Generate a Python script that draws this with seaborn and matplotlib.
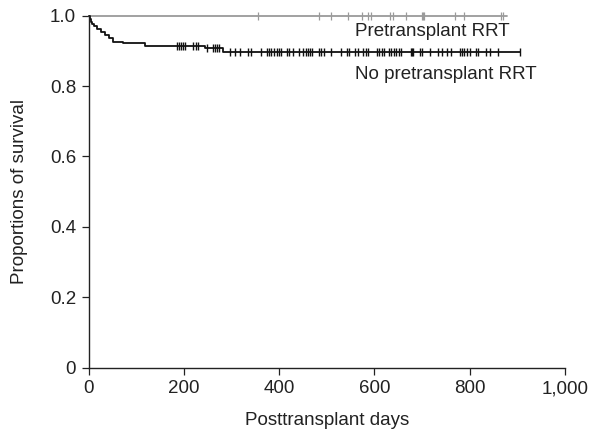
import numpy as np
import pandas as pd
import matplotlib
matplotlib.use("Agg")
import matplotlib.pyplot as plt
import seaborn as sns

# Kaplan-Meier steps, no pretransplant RRT
no_rrt_times = [0, 3, 5, 8, 11, 18, 26, 35, 44, 52, 73, 119, 245, 283, 905]
no_rrt_surv = [1.0, 0.99, 0.982, 0.976, 0.970, 0.962, 0.953, 0.945, 0.936, 0.926,
               0.921, 0.914, 0.907, 0.896, 0.896]
no_rrt_censored = [185, 190, 194, 199, 203, 220, 225, 229, 248, 262, 266, 269, 273,
                   297, 307, 318, 335, 341, 362, 374, 379, 384, 390, 395, 400, 405,
                   416, 421, 430, 442, 451, 456, 460, 465, 470, 484, 489, 495, 509,
                   531, 542, 547, 559, 565, 577, 582, 587, 605, 610, 616, 621, 630,
                   636, 641, 646, 651, 657, 677, 679, 682, 695, 700, 716, 734, 741,
                   753, 760, 779, 784, 789, 795, 800, 814, 818, 835, 842, 860, 905]

# pretransplant RRT: no events
rrt_times = [0, 878]
rrt_surv = [1.0, 1.0]
rrt_censored = [355, 484, 510, 545, 575, 586, 593, 632, 640, 667, 699, 702, 705,
                769, 788, 865, 870]

x_ticks = [0, 200, 400, 600, 800, 1000]
x_labels = ["0", "200", "400", "600", "800", "1,000"]
y_ticks = [0, 0.2, 0.4, 0.6, 0.8, 1.0]
y_labels = ["0", "0.2", "0.4", "0.6", "0.8", "1.0"]

sns.set_style("ticks")
plt.rcParams['font.family'] = ['Liberation Sans', 'DejaVu Sans']

fig = plt.figure(figsize=(5.94, 4.36), dpi=100)
ax = fig.add_axes([0.149, 0.157, 0.802, 0.807])

def surv_at(times, surv, t):
    idx = np.searchsorted(times, t, side='right') - 1
    return np.asarray(surv)[idx]

# curves
sns.lineplot(x=rrt_times, y=rrt_surv, drawstyle='steps-post', color='#9a9a9a',
             lw=1.3, ax=ax, estimator=None, clip_on=False)
sns.lineplot(x=no_rrt_times, y=no_rrt_surv, drawstyle='steps-post', color='#111111',
             lw=1.3, ax=ax, estimator=None, clip_on=False)

# censor marks
cens_rrt = pd.DataFrame({'t': rrt_censored,
                         's': surv_at(rrt_times, rrt_surv, rrt_censored)})
cens_no = pd.DataFrame({'t': no_rrt_censored,
                        's': surv_at(no_rrt_times, no_rrt_surv, no_rrt_censored)})
sns.scatterplot(data=cens_rrt, x='t', y='s', marker='|', s=30, color='#9a9a9a',
                linewidth=0.9, ax=ax, clip_on=False)
sns.scatterplot(data=cens_no, x='t', y='s', marker='|', s=40, color='#111111',
                linewidth=1.0, ax=ax, clip_on=False)

ax.text(559, 0.955, "Pretransplant RRT", fontsize=13.5, va='center', ha='left', color='#222222')
ax.text(559, 0.834, "No pretransplant RRT", fontsize=13.5, va='center', ha='left', color='#222222')

ax.set_xlim(0, 1000)
ax.set_ylim(0, 1.0)
ax.set_xticks(x_ticks)
ax.set_xticklabels(x_labels)
ax.set_yticks(y_ticks)
ax.set_yticklabels(y_labels)
ax.tick_params(labelsize=13.5, length=5, width=0.9, colors='#222222', pad=4)
ax.set_xlabel("Posttransplant days", fontsize=13.5, color='#222222', labelpad=11)
ax.set_ylabel("Proportions of survival", fontsize=13.5, color='#222222', labelpad=16)
for sp in ['left', 'bottom']:
    ax.spines[sp].set_linewidth(1.0)
    ax.spines[sp].set_color('#222222')
sns.despine(ax=ax)

fig.savefig("out.png", dpi=100)
